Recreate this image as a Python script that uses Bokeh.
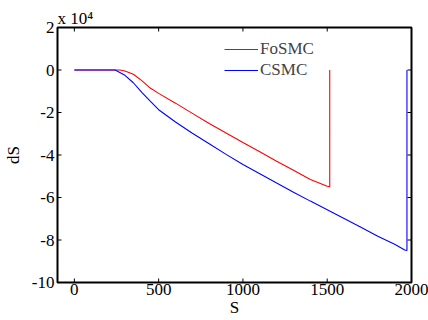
import math
from bokeh.plotting import figure
from bokeh.models import (Range1d, FixedTicker, Title, Legend, LegendItem,
                          CustomJSTickFormatter)
from bokeh.embed import file_html
from bokeh.resources import INLINE

# FoSMC (red)
s_fo = [0, 100, 200, 270, 300, 350, 400, 450, 500, 600, 700, 800, 900, 1000,
        1100, 1200, 1300, 1400, 1500, 1515, 1515]
ds_fo = [0, 0, 0, 0, -500, -2000, -5000, -8500, -11000, -15600, -20400, -25200,
         -29600, -34100, -38500, -42900, -47200, -51500, -54700, -54900, 0]

# CSMC (blue)
s_cs = [0, 100, 200, 242, 300, 350, 400, 450, 500, 600, 700, 800, 900, 1000,
        1100, 1200, 1300, 1400, 1500, 1600, 1700, 1800, 1900, 1960, 1973, 1973]
ds_cs = [0, 0, 0, 0, -2500, -6000, -10500, -14700, -18700, -24500, -29800, -34700,
         -39700, -44500, -48800, -53200, -57500, -61700, -65800, -69900, -74000,
         -78200, -82000, -84700, -84900, 0]

x_ticks = [0, 500, 1000, 1500, 2000]
y_ticks = [-100000, -80000, -60000, -40000, -20000, 0, 20000]
x_lo, x_hi = -100, 2000

FONT = "Liberation Serif"

p = figure(width=428, height=320, output_backend="svg", toolbar_location=None,
           x_range=Range1d(x_lo, x_hi), y_range=Range1d(y_ticks[0], y_ticks[-1]),
           min_border_left=57, min_border_right=17, min_border_top=27,
           min_border_bottom=38)
p.background_fill_color = "white"
p.border_fill_color = "white"
p.outline_line_color = "black"
p.outline_line_width = 2
p.grid.visible = False

r1 = p.line(s_fo, ds_fo, line_color="#ff0000", line_width=1.1)
r2 = p.line(s_cs, ds_cs, line_color="#0000ff", line_width=1.1)

# inward tick marks on all four sides
n_x, n_y = len(x_ticks), len(y_ticks)
tick = dict(length=4, length_units="screen", line_color="black", line_width=1)
p.ray(x=x_ticks, y=[y_ticks[0]] * n_x, angle=math.pi / 2, **tick)
p.ray(x=x_ticks, y=[y_ticks[-1]] * n_x, angle=-math.pi / 2, **tick)
p.ray(x=[x_lo] * n_y, y=y_ticks, angle=0, **tick)
p.ray(x=[x_hi] * n_y, y=y_ticks, angle=math.pi, **tick)

fmt = CustomJSTickFormatter(code="return (tick/10000).toString();")

for ax in p.xaxis + p.yaxis:
    ax.major_tick_in = 0
    ax.major_tick_out = 0
    ax.minor_tick_line_color = None
    ax.axis_line_color = None
    ax.major_tick_line_color = None
    ax.major_label_text_font = FONT
    ax.major_label_text_font_size = "17px"
    ax.major_label_text_color = "black"
    ax.axis_label_text_font = FONT
    ax.axis_label_text_font_size = "17px"
    ax.axis_label_text_font_style = "normal"
    ax.axis_label_text_color = "black"
p.xaxis.ticker = FixedTicker(ticks=x_ticks)
p.yaxis.ticker = FixedTicker(ticks=y_ticks)
p.yaxis.formatter = fmt
p.xaxis.major_label_standoff = 1
p.xaxis.axis_label_standoff = 0
p.xaxis.axis_label = "S"
p.yaxis.major_label_standoff = 3
p.yaxis.axis_label_standoff = 6
p.yaxis.axis_label = "dS"

p.add_layout(Title(text="x 10\u2074", align="left", standoff=0,
                   text_font=FONT, text_font_size="17px", text_font_style="normal",
                   text_color="black"), "above")

legend = Legend(items=[LegendItem(label="FoSMC", renderers=[r1]),
                       LegendItem(label="CSMC", renderers=[r2])],
                location=(167, 202), padding=0, margin=0, spacing=1,
                glyph_width=34, glyph_height=20, label_standoff=2,
                label_text_font=FONT, label_text_font_size="17px",
                border_line_color=None, background_fill_alpha=0)
p.add_layout(legend, "center")

open("out.html", "w").write(file_html(p, INLINE))
